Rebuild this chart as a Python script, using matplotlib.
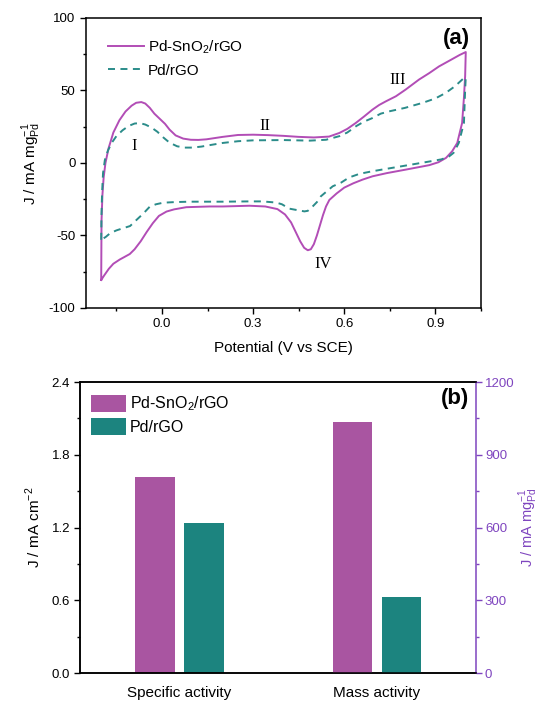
import matplotlib
matplotlib.use("Agg")
import matplotlib.pyplot as plt
from matplotlib.ticker import MultipleLocator

plt.rcParams['font.family'] = ['Liberation Sans', 'DejaVu Sans']
plt.rcParams['mathtext.fontset'] = 'custom'
plt.rcParams['mathtext.rm'] = 'Liberation Sans'
plt.rcParams['axes.unicode_minus'] = False

# ---------------- data: panel (a) CV curves ----------------
sno2_fwd_v = [-0.200, -0.199, -0.196, -0.192, -0.186, -0.176, -0.160, -0.140, -0.120, -0.100,
              -0.085, -0.068, -0.055, -0.040, -0.025, -0.010, 0.010, 0.025, 0.045, 0.070,
              0.095, 0.120, 0.146, 0.200, 0.250, 0.300, 0.350, 0.400, 0.450, 0.500, 0.550,
              0.584, 0.610, 0.638, 0.665, 0.693, 0.715, 0.737, 0.770, 0.802, 0.846, 0.880,
              0.912, 0.950, 0.980, 1.000]
sno2_fwd_j = [-80.7, -40.0, -22.0, -10.0, 0.0, 10.0, 21.0, 29.5, 35.5, 39.5,
              41.5, 42.0, 41.0, 38.0, 34.0, 31.0, 27.0, 23.0, 19.0, 16.8,
              16.0, 15.9, 16.3, 18.0, 19.3, 19.5, 19.2, 18.7, 18.0, 17.6, 18.2,
              20.7, 23.5, 27.6, 32.0, 36.8, 40.0, 42.5, 46.0, 50.6, 57.5, 62.0,
              66.6, 71.0, 74.5, 76.5]
sno2_rev_v = [1.000, 0.998, 0.994, 0.988, 0.972, 0.955, 0.935, 0.910, 0.880, 0.802, 0.740,
              0.693, 0.660, 0.630, 0.600, 0.575, 0.551, 0.540, 0.530, 0.520, 0.510, 0.500,
              0.490, 0.480, 0.468, 0.455, 0.440, 0.425, 0.405, 0.380, 0.340, 0.288, 0.200,
              0.157, 0.080, 0.040, 0.015, -0.010, -0.030, -0.050, -0.070, -0.090, -0.106,
              -0.125, -0.139, -0.160, -0.175, -0.190, -0.200]
sno2_rev_j = [76.5, 60.0, 45.0, 27.6, 13.8, 8.0, 3.5, 0.5, -1.5, -4.6, -7.0,
              -9.2, -11.5, -14.0, -17.0, -21.0, -25.5, -30.0, -36.0, -43.0, -50.0, -56.0,
              -59.5, -60.2, -58.5, -54.0, -47.5, -41.0, -35.5, -31.8, -30.0, -29.5, -30.0,
              -30.0, -30.5, -32.0, -33.5, -36.5, -41.5, -47.5, -54.0, -59.5, -62.8,
              -65.0, -66.6, -69.5, -73.0, -77.5, -80.7]

rgo_fwd_v = [-0.200, -0.199, -0.197, -0.194, -0.188, -0.178, -0.165, -0.150, -0.130, -0.110,
             -0.090, -0.073, -0.055, -0.035, -0.015, 0.005, 0.025, 0.050, 0.075, 0.100,
             0.130, 0.160, 0.200, 0.250, 0.300, 0.400, 0.487, 0.540, 0.584, 0.610, 0.640,
             0.665, 0.693, 0.720, 0.748, 0.800, 0.857, 0.900, 0.934, 0.965, 0.994, 1.000]
rgo_fwd_j = [-53.0, -35.0, -20.0, -7.0, 2.0, 8.5, 14.0, 18.5, 22.5, 25.5,
             27.2, 27.5, 26.5, 24.5, 21.5, 17.5, 14.0, 11.5, 10.6, 10.6,
             11.3, 12.4, 13.8, 15.0, 15.6, 15.8, 15.4, 16.0, 18.5, 21.0, 25.5,
             28.5, 31.0, 34.0, 35.6, 38.0, 41.4, 44.5, 48.3, 53.0, 58.6, 59.0]
rgo_rev_v = [1.000, 0.998, 0.994, 0.977, 0.960, 0.945, 0.920, 0.880, 0.802, 0.740, 0.693,
             0.650, 0.616, 0.590, 0.562, 0.540, 0.523, 0.510, 0.496, 0.480, 0.469, 0.445,
             0.419, 0.395, 0.376, 0.330, 0.288, 0.200, 0.157, 0.091, 0.040, 0.004, -0.020,
             -0.040, -0.062, -0.084, -0.105, -0.128, -0.150, -0.171, -0.185, -0.200]
rgo_rev_j = [59.0, 50.6, 27.6, 13.8, 7.0, 4.5, 2.5, 1.0, -1.8, -4.0, -5.7,
             -7.5, -10.0, -13.5, -16.1, -20.0, -23.0, -27.0, -30.0, -33.0, -33.4, -32.5,
             -31.5, -28.5, -27.3, -26.5, -26.5, -26.7, -26.7, -26.7, -27.0, -27.4, -28.5,
             -30.1, -35.0, -39.3, -43.5, -45.0, -46.5, -48.5, -51.0, -53.0]

series_names = ['Pd-SnO$_2$/rGO', 'Pd/rGO']
peak_labels = ['I', 'II', 'III', 'IV']
peak_v = [-0.091, 0.340, 0.776, 0.532]
peak_j = [11.5, 25.7, 57.0, -69.4]

# ---------------- data: panel (b) bars ----------------
bar_categories = ['Specific activity', 'Mass activity']
specific_activity = [1.62, 1.24]      # mA cm^-2 (left axis) : Pd-SnO2/rGO, Pd/rGO
mass_activity = [1035, 313]           # mA mg^-1 Pd (right axis)

# ---------------- styling ----------------
c_line_m = '#B24DB6'
c_line_t = '#2B8C8A'
c_bar_m = '#A955A1'
c_bar_t = '#1C847F'
c_purple = '#7F45BF'

fig = plt.figure(figsize=(5.41, 7.02), dpi=100)

# ---------- panel (a) ----------
ax1 = fig.add_axes([0.159, 0.5613, 0.730, 0.4131])
ax1.plot(sno2_fwd_v + sno2_rev_v, sno2_fwd_j + sno2_rev_j, color=c_line_m, lw=1.4,
         label=series_names[0], solid_joinstyle='round')
ax1.plot(rgo_fwd_v + rgo_rev_v, rgo_fwd_j + rgo_rev_j, color=c_line_t, lw=1.4,
         dashes=(3.6, 2.8), label=series_names[1])
ax1.set_xlim(-0.25, 1.05)
ax1.set_ylim(-100, 100)
ax1.xaxis.set_minor_locator(MultipleLocator(0.15))
ax1.yaxis.set_major_locator(MultipleLocator(50))
ax1.yaxis.set_minor_locator(MultipleLocator(25))
ax1.set_xticks([0.0, 0.3, 0.6, 0.9])
ax1.set_xticklabels(['0.0', '0.3', '0.6', '0.9'])
ax1.tick_params(which='major', direction='out', length=4, width=1, labelsize=9.5)
ax1.tick_params(which='minor', direction='out', length=2.5, width=1)
ax1.tick_params(top=False, right=False, which='both')
for s in ax1.spines.values():
    s.set_linewidth(1.1)
ax1.set_xlabel('Potential (V vs SCE)', fontsize=11, labelpad=8)
ax1.set_ylabel(r'J / mA mg$^{\mathregular{-1}}_{\mathregular{Pd}}$', fontsize=11, labelpad=4)
for lab, v, j in zip(peak_labels, peak_v, peak_j):
    ax1.text(v, j, lab, fontsize=12, family=['Liberation Serif', 'DejaVu Serif'],
             ha='center', va='center')
ax1.text(0.969, 86, '(a)', fontsize=16, fontweight='bold', ha='center', va='center')
ax1.legend(loc='upper left', bbox_to_anchor=(0.055, 0.93), frameon=False, fontsize=11,
           handlelength=2.4, handletextpad=0.25, labelspacing=0.5, borderaxespad=0,
           borderpad=0)

# ---------- panel (b) ----------
ax2 = fig.add_axes([0.1486, 0.0413, 0.731, 0.4145])
ax3 = ax2.twinx()
w = 0.2
off = 0.124
ax2.bar([0 - off], [specific_activity[0]], width=w, color=c_bar_m, label=series_names[0])
ax2.bar([0 + off], [specific_activity[1]], width=w, color=c_bar_t, label=series_names[1])
ax3.bar([1 - off], [mass_activity[0]], width=w, color=c_bar_m)
ax3.bar([1 + off], [mass_activity[1]], width=w, color=c_bar_t)
ax2.set_xlim(-0.5, 1.5)
ax2.set_ylim(0, 2.4)
ax3.set_ylim(0, 1200)
ax2.set_xticks([0, 1])
ax2.set_xticklabels(bar_categories, fontsize=11)
ax2.tick_params(axis='x', length=0, pad=9)
ax2.yaxis.set_minor_locator(MultipleLocator(0.3))
ax2.set_yticks([0.0, 0.6, 1.2, 1.8, 2.4])
ax2.set_yticklabels(['0.0', '0.6', '1.2', '1.8', '2.4'])
ax2.tick_params(axis='y', which='major', direction='out', length=4, width=1, labelsize=9.5)
ax2.tick_params(axis='y', which='minor', direction='out', length=2.5, width=1)
ax3.yaxis.set_major_locator(MultipleLocator(300))
ax3.yaxis.set_minor_locator(MultipleLocator(150))
ax3.tick_params(axis='y', which='major', direction='out', length=4, width=1, pad=2.5,
                labelsize=9.5, colors=c_purple)
ax3.tick_params(axis='y', which='minor', direction='out', length=2.5, width=1,
                colors=c_purple)
for s in ax2.spines.values():
    s.set_linewidth(1.1)
for s in ax3.spines.values():
    s.set_linewidth(1.1)
ax3.spines['right'].set_color(c_purple)
ax2.spines['right'].set_visible(False)
ax2.set_ylabel(r'J / mA cm$^{\mathregular{-2}}$', fontsize=11, labelpad=6)
ax3.set_ylabel(r'J / mA mg$^{\mathregular{-1}}_{\mathregular{Pd}}$', fontsize=10.5,
               color=c_purple, labelpad=1)
ax2.text(1.397, 2.268, '(b)', fontsize=16, fontweight='bold', ha='center', va='center')
ax2.legend(loc='upper left', bbox_to_anchor=(0.028, 0.957), frameon=False, fontsize=11.5,
           handlelength=2.15, handleheight=1.25, handletextpad=0.25, labelspacing=0.3,
           borderaxespad=0, borderpad=0)

fig.savefig('out.png', dpi=100)
